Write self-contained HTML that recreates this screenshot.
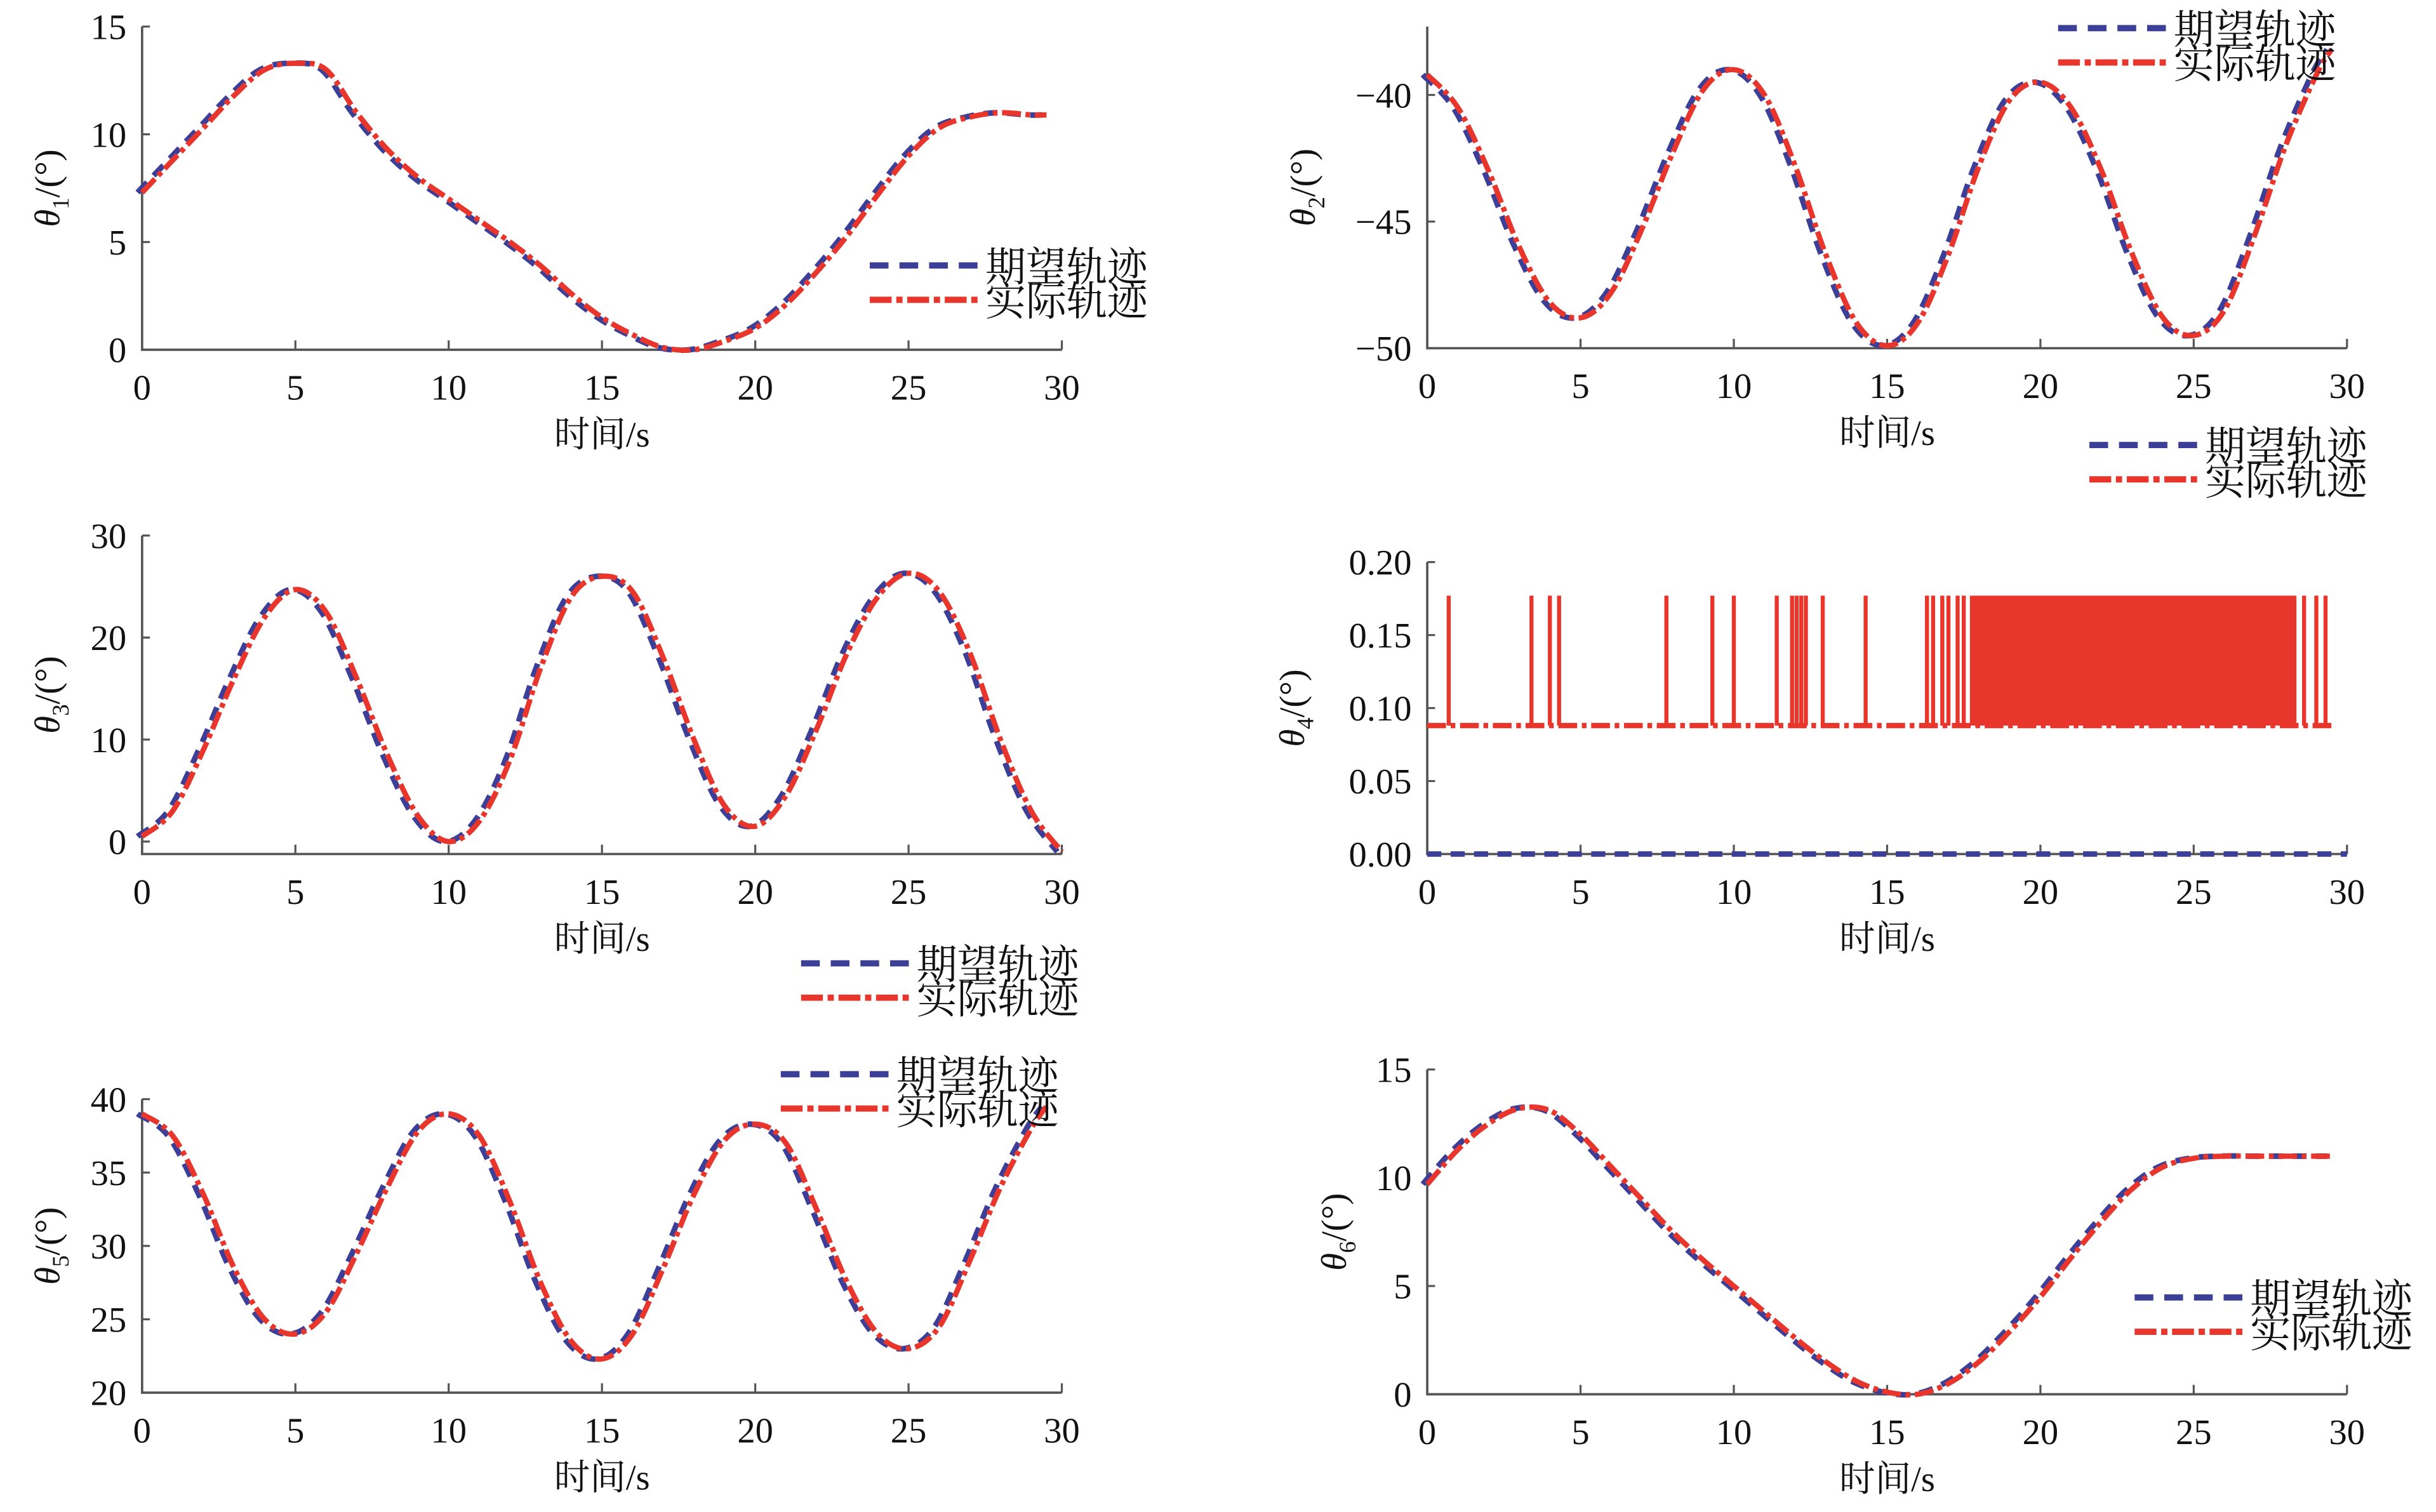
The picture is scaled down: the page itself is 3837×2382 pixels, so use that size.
<!DOCTYPE html>
<html><head><meta charset="utf-8">
<style>
html,body{margin:0;padding:0;background:#fff;}
svg{display:block;}
text{font-family:"Liberation Serif","Noto Serif CJK SC",serif;fill:#111;}
</style></head>
<body>
<svg id="fig" width="3837" height="2382" viewBox="0 0 1560 968.4" xmlns="http://www.w3.org/2000/svg"></svg>
<script>
// ---- data ----
const timeSec = [0,1,2,3,4,5,6,7,8,9,10,11,12,13,14,15,16,17,18,19,20,21,22,23,24,25,26,27,28,29,29.5];
const timeSec3 = [0,1,2,3,4,5,6,7,8,9,10,11,12,13,14,15,16,17,18,19,20,21,22,23,24,25,26,27,28,29,30];
const theta1 = [7.3,8.8,10.3,11.8,13,13.3,13,11,9.3,8,7,6,5,3.9,2.6,1.5,0.7,0.1,0,0.4,1,2.1,3.6,5.3,7.2,9,10.3,10.8,11,10.9,10.9];
const theta2 = [-39.2,-40.5,-43,-46,-48.2,-48.8,-47.8,-45.3,-42.3,-39.8,-39,-40,-42.8,-46.3,-49,-49.9,-49,-46.3,-42.8,-40.2,-39.5,-40.5,-43,-46.3,-48.8,-49.5,-48.5,-45.5,-42,-39.2,-38.2];
const theta3 = [0.5,3,9,16,22,24.7,22.5,16,8.5,2.5,0,2,8,17,24,26,24.5,18,10,3.5,1.5,4.5,11,18.5,24,26.3,24.5,18.5,10,3,-1];
const theta5 = [39,37.5,33.5,28.5,25,24,25.5,29.5,34,37.8,39,37.5,33,27.5,23.5,22.3,24,28.5,33.5,37.2,38.3,37,32.5,27.5,24,23,24.5,29,34,38,39.5];
const theta6 = [9.7,11.3,12.5,13.2,13.1,12,10.5,9,7.5,6.2,5,3.8,2.6,1.5,0.6,0.1,0,0.5,1.5,2.9,4.5,6.3,8,9.5,10.5,10.9,11,11,11,11,11];
const theta4Base = 0.088;
const theta4High = 0.177;
const theta4Spikes = [0.7,3.4,4.0,4.3,7.8,9.3,10.0,11.4,11.9,12.05,12.2,12.35,12.9,14.3,16.3,16.5,16.8,17.0,17.3,17.5,28.6,29.0,29.3];
const theta4BlockStart = 17.7;
const theta4BlockEnd = 28.35;
const xTicks = [0,5,10,15,20,25,30];
const y1Ticks = [0,5,10,15];
const y2Ticks = [-50,-45,-40];
const y3Ticks = [0,10,20,30];
const y4Ticks = [0,0.05,0.1,0.15,0.2];
const y5Ticks = [20,25,30,35,40];
const y6Ticks = [0,5,10,15];

const NS="http://www.w3.org/2000/svg";
const svg=document.getElementById('fig');
function mk(tag,attrs,parent){const e=document.createElementNS(NS,tag);for(const k in attrs)e.setAttribute(k,attrs[k]);(parent||svg).appendChild(e);return e;}
const BLUE="#3b3f98", RED="#e8362c";
function smooth(pts){
  let d=`M${pts[0][0].toFixed(1)},${pts[0][1].toFixed(1)}`;
  for(let i=0;i<pts.length-1;i++){
    const p0=pts[Math.max(0,i-1)],p1=pts[i],p2=pts[i+1],p3=pts[Math.min(pts.length-1,i+2)];
    const c1=[p1[0]+(p2[0]-p0[0])/6,p1[1]+(p2[1]-p0[1])/6];
    const c2=[p2[0]-(p3[0]-p1[0])/6,p2[1]-(p3[1]-p1[1])/6];
    d+=` C${c1[0].toFixed(1)},${c1[1].toFixed(1)} ${c2[0].toFixed(1)},${c2[1].toFixed(1)} ${p2[0].toFixed(1)},${p2[1].toFixed(1)}`;
  }
  return d;
}

const panels=[
 {id:'theta1',sub:'1',x0:91,x1:680,yTop:17,yBot:224,ymin:0,ymax:15,ticks:y1Ticks,dec:0,data:theta1,t:timeSec,axisY:224,leg:[557,170],labX:38},
 {id:'theta2',sub:'2',x0:914,x1:1503,yTop:17,yBot:223,ymin:-50,ymax:-37.3,ticks:y2Ticks,dec:0,data:theta2,t:timeSec,axisY:223,leg:[1318,18],labX:842},
 {id:'theta3',sub:'3',x0:91,x1:680,yTop:343,yBot:539,ymin:0,ymax:30,ticks:y3Ticks,dec:0,data:theta3,t:timeSec3,axisY:547,leg:[513,617],labX:38},
 {id:'theta4',sub:'4',x0:914,x1:1503,yTop:360,yBot:547,ymin:0,ymax:0.2,ticks:y4Ticks,dec:2,data:null,axisY:547,leg:[1338,285],labX:835},
 {id:'theta5',sub:'5',x0:91,x1:680,yTop:704,yBot:892,ymin:20,ymax:40,ticks:y5Ticks,dec:0,data:theta5,t:timeSec,axisY:892,leg:[500,688],labX:38},
 {id:'theta6',sub:'6',x0:914,x1:1503,yTop:685,yBot:893,ymin:0,ymax:15,ticks:y6Ticks,dec:0,data:theta6,t:timeSec,axisY:893,leg:[1367,831],labX:862}
];

panels.forEach(p=>{
  const g=mk('g',{});
  
  
  const sx=t=>p.x0+(t/30)*(p.x1-p.x0);
  const sy=v=>p.yBot-(v-p.ymin)/(p.ymax-p.ymin)*(p.yBot-p.yTop);
  const top=sy(p.ymax);
  const ax=mk('path',{d:`M${p.x0},${top} L${p.x0},${p.axisY} L${p.x1},${p.axisY}`,fill:'none',stroke:'#555','stroke-width':1.5},g);
  
  
  xTicks.forEach(t=>{
    mk('line',{x1:sx(t),x2:sx(t),y1:p.axisY,y2:p.axisY-6,stroke:'#555','stroke-width':1.3},g);
    const tx=mk('text',{x:sx(t),y:p.axisY+32,'font-size':23,'text-anchor':'middle'},g);
    tx.textContent=t;
    
    
  });
  p.ticks.forEach(v=>{
    mk('line',{x1:p.x0,x2:p.x0+5,y1:sy(v),y2:sy(v),stroke:'#555','stroke-width':1.3},g);
    const tx=mk('text',{x:p.x0-10,y:sy(v)+8,'font-size':23,'text-anchor':'end'},g);
    tx.textContent=p.dec?v.toFixed(p.dec):String(v).replace('-','\u2212');
    
    
  });
  const xl=mk('text',{x:(p.x0+p.x1)/2,y:p.axisY+62,'font-size':23,'text-anchor':'middle'},g);
  xl.textContent='时间/s';
  
  
  const cy=(top+p.axisY)/2;
  const yl=mk('text',{transform:`translate(${p.labX},${cy}) rotate(-90)`,'font-size':23,'text-anchor':'middle'},g);
  yl.innerHTML=`<tspan font-style="italic">θ</tspan><tspan font-size="15" dy="6">${p.sub}</tspan><tspan dy="-6">/(°)</tspan>`;
  
  
  if(p.data){
    const dpts=p.data.map((v,i)=>[sx(p.t[i]-0.15),sy(v)]);
    const apts=p.data.map((v,i)=>[sx(p.t[i]),sy(v)]);
    const d=mk('path',{d:smooth(dpts),fill:'none',stroke:BLUE,'stroke-width':3.6,'stroke-dasharray':'9 6'},g);
    
    
    const a=mk('path',{d:smooth(apts),fill:'none',stroke:RED,'stroke-width':3.4,'stroke-dasharray':'12 3 3 3'},g);
    
    
  } else {
    const b=mk('line',{x1:sx(0),x2:sx(30),y1:sy(0),y2:sy(0),stroke:BLUE,'stroke-width':3.5,'stroke-dasharray':'9 6'},g);
    
    
    const base=mk('line',{x1:sx(0),x2:sx(29.5),y1:sy(theta4Base),y2:sy(theta4Base),stroke:RED,'stroke-width':3.4,'stroke-dasharray':'12 3 3 3'},g);
    
    
    theta4Spikes.forEach(t=>{
      const s=mk('line',{x1:sx(t),x2:sx(t),y1:sy(theta4Base),y2:sy(theta4High),stroke:RED,'stroke-width':2.6},g);
      
      
    });
    const blk=mk('rect',{x:sx(theta4BlockStart),y:sy(theta4High),width:sx(theta4BlockEnd)-sx(theta4BlockStart),height:sy(theta4Base)-sy(theta4High),fill:RED},g);
    
    
  }
  const [lx,ly]=p.leg;
  const lg=mk('g',{},g);
  
  
  mk('line',{x1:lx,x2:lx+72,y1:ly,y2:ly,stroke:BLUE,'stroke-width':4,'stroke-dasharray':'12 7'},lg);
  mk('line',{x1:lx,x2:lx+72,y1:ly+22,y2:ly+22,stroke:RED,'stroke-width':4,'stroke-dasharray':'14 3 4 3'},lg);
  const t1=mk('text',{x:lx+74,y:ly+10,'font-size':26},lg);
  t1.textContent='期望轨迹';
  
  
  const t2=mk('text',{x:lx+74,y:ly+32,'font-size':26},lg);
  t2.textContent='实际轨迹';
  
  
});
</script>
</body></html>
